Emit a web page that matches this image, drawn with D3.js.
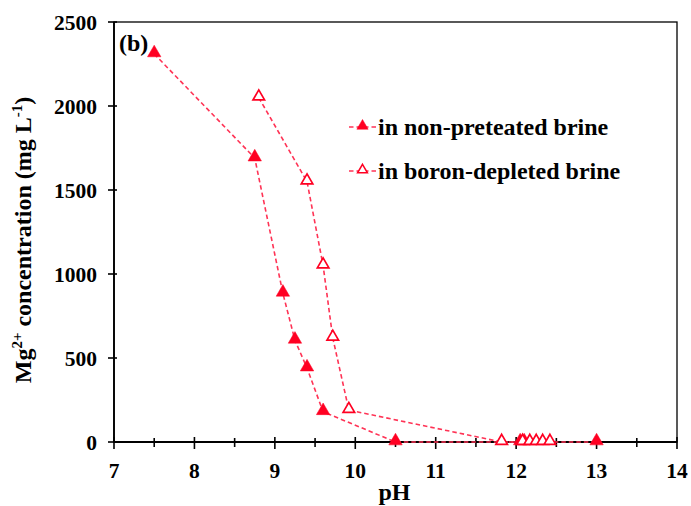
<!DOCTYPE html>
<html>
<head>
<meta charset="utf-8">
<script src="https://cdn.jsdelivr.net/npm/d3@7"></script>
<style>
  html, body { margin: 0; padding: 0; background: #fff; }
  svg text { font-family: "Liberation Serif", "Times New Roman", serif; font-weight: bold; fill: #000; }
</style>
</head>
<body>
<svg id="chart" width="691" height="506"></svg>
<script>
// Mg2+ concentration versus pH in two brines
const seriesNames = ["in non-preteated brine", "in boron-depleted brine"];
const phNonPretreated = [7.5, 8.75, 9.1, 9.25, 9.4, 9.6, 10.5, 12.05, 12.1, 13.0];
const mgNonPretreated = [2310, 1690, 885, 605, 440, 180, 0, 0, 0, 0];
const phBoronDepleted = [8.8, 9.4, 9.6, 9.72, 9.92, 11.82, 12.08, 12.17, 12.25, 12.33, 12.42];
const mgBoronDepleted = [2050, 1550, 1050, 620, 190, 0, 0, 0, 0, 0, 0];
const xTicks = [7, 8, 9, 10, 11, 12, 13, 14];
const xMinorTicks = [7.5, 8.5, 9.5, 10.5, 11.5, 12.5, 13.5];
const yTicks = [0, 500, 1000, 1500, 2000, 2500];

const svg = d3.select("#chart");
const plotLeft = 114, plotRight = 677, plotTop = 22, plotBottom = 442;

const x = d3.scaleLinear().domain([7, 14]).range([plotLeft, plotRight]);
const y = d3.scaleLinear().domain([0, 2500]).range([plotBottom, plotTop]);

const lineColor = "#ff3355";
const markColor = "#ff0022";
const tickFont = 21.5, titleFont = 24;

// frame
svg.append("rect")
  .attr("x", plotLeft).attr("y", plotTop)
  .attr("width", plotRight - plotLeft).attr("height", plotBottom - plotTop)
  .attr("fill", "none").attr("stroke", "#000").attr("stroke-width", 1.3);

// x axis with ticks crossing the line
const xAxis = svg.append("g");
xAxis.selectAll("line.major").data(xTicks).join("line").attr("class", "major")
  .attr("x1", d => x(d)).attr("x2", d => x(d))
  .attr("y1", plotBottom - 5).attr("y2", plotBottom + 7)
  .attr("stroke", "#000").attr("stroke-width", 1.6);
xAxis.selectAll("line.minor").data(xMinorTicks).join("line").attr("class", "minor")
  .attr("x1", d => x(d)).attr("x2", d => x(d))
  .attr("y1", plotBottom - 4).attr("y2", plotBottom + 5)
  .attr("stroke", "#000").attr("stroke-width", 1.6);
xAxis.append("line")
  .attr("x1", plotLeft).attr("x2", plotRight).attr("y1", plotBottom).attr("y2", plotBottom)
  .attr("stroke", "#000").attr("stroke-width", 1.8);
xAxis.selectAll("text").data(xTicks).join("text")
  .attr("x", d => x(d)).attr("y", plotBottom + 36)
  .attr("text-anchor", "middle").attr("font-size", tickFont)
  .text(d => d);

// y axis
const yAxis = svg.append("g");
yAxis.selectAll("line").data(yTicks).join("line")
  .attr("x1", plotLeft - 6).attr("x2", plotLeft + 3)
  .attr("y1", d => y(d)).attr("y2", d => y(d))
  .attr("stroke", "#000").attr("stroke-width", 1.6);
yAxis.append("line")
  .attr("x1", plotLeft).attr("x2", plotLeft).attr("y1", plotTop).attr("y2", plotBottom)
  .attr("stroke", "#000").attr("stroke-width", 1.8);
yAxis.selectAll("text").data(yTicks).join("text")
  .attr("x", plotLeft - 17).attr("y", d => y(d) + 7.5)
  .attr("text-anchor", "end").attr("font-size", tickFont)
  .text(d => d);

// axis titles
svg.append("text")
  .attr("x", (plotLeft + plotRight) / 2 - 1).attr("y", 500)
  .attr("text-anchor", "middle").attr("font-size", titleFont)
  .text("pH");

const yTitle = svg.append("text")
  .attr("transform", `translate(31, 240) rotate(-90)`)
  .attr("text-anchor", "middle").attr("font-size", titleFont);
yTitle.append("tspan").text("Mg");
yTitle.append("tspan").attr("font-size", 15).attr("dy", -9).text("2+");
yTitle.append("tspan").attr("dy", 9).text(" concentration (mg L");
yTitle.append("tspan").attr("font-size", 15).attr("dy", -9).text("-1");
yTitle.append("tspan").attr("dy", 9).text(")");

svg.append("text")
  .attr("x", plotLeft + 5).attr("y", 51).attr("font-size", titleFont)
  .text("(b)");

// series
const tri = d3.symbol().type(d3.symbolTriangle);
const series = [
  { name: seriesNames[0], xs: phNonPretreated, ys: mgNonPretreated, filled: true },
  { name: seriesNames[1], xs: phBoronDepleted, ys: mgBoronDepleted, filled: false }
];
const line = d3.line().x(d => x(d[0])).y(d => y(d[1]));

series.forEach(s => {
  const pts = s.xs.map((v, i) => [v, s.ys[i]]);
  svg.append("path").datum(pts)
    .attr("d", line)
    .attr("fill", "none").attr("stroke", lineColor)
    .attr("stroke-width", 1.6).attr("stroke-dasharray", "4.5,3");
});

series.forEach(s => {
  const pts = s.xs.map((v, i) => [v, s.ys[i]]);
  svg.append("g").selectAll("path").data(pts).join("path")
    .attr("transform", d => `translate(${x(d[0])},${y(d[1]) - 1})`)
    .attr("d", tri.size(s.filled ? 78 : 58)())
    .attr("fill", s.filled ? markColor : "#fff")
    .attr("stroke", markColor).attr("stroke-width", s.filled ? 0.5 : 1.7);
});

// legend
const legend = svg.append("g");
series.forEach((s, i) => {
  const ly = 127 + i * 44;
  legend.append("line")
    .attr("x1", 348).attr("x2", 377).attr("y1", ly).attr("y2", ly)
    .attr("stroke", lineColor).attr("stroke-width", 1.6).attr("stroke-dasharray", "4.5,3")
    .attr("stroke-dashoffset", -1);
  legend.append("path")
    .attr("transform", `translate(362.5,${ly - 1})`)
    .attr("d", tri.size(s.filled ? 55 : 42)())
    .attr("fill", s.filled ? markColor : "#fff")
    .attr("stroke", markColor).attr("stroke-width", s.filled ? 0.5 : 1.5);
  legend.append("text")
    .attr("x", 378).attr("y", ly + 8).attr("font-size", titleFont)
    .text(s.name);
});
</script>
</body>
</html>
